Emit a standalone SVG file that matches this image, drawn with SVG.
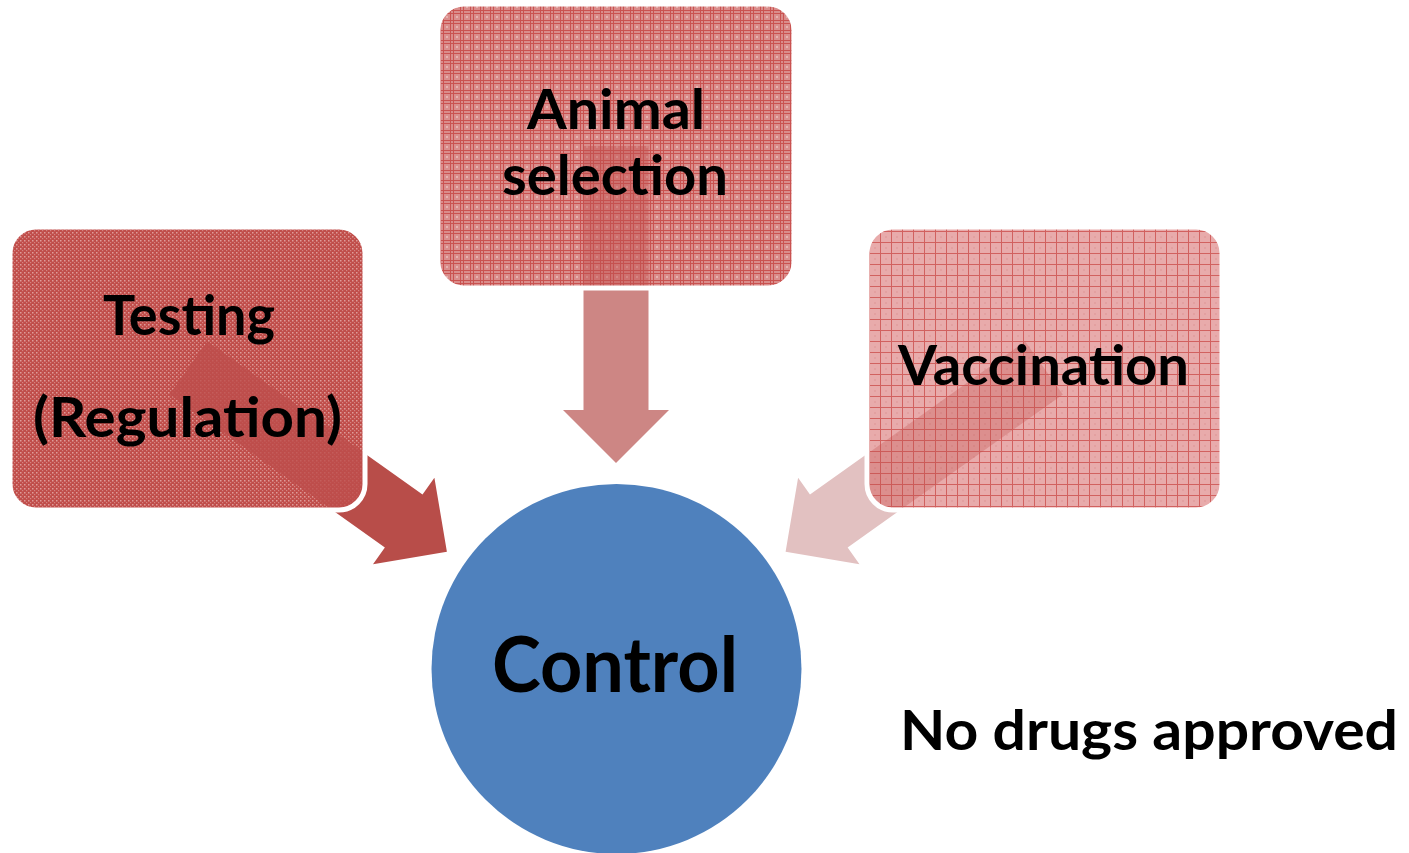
<svg xmlns="http://www.w3.org/2000/svg" width="1409" height="853" viewBox="0 0 1409 853">
  <style>
    .lbl { font-family: Lato, "Noto Sans", "Liberation Sans", sans-serif; font-weight: bold; fill: #000; }
    .edge { fill: none; stroke: #fff; stroke-width: 5; }
  </style>
  <defs>
    <pattern id="dots" width="4" height="4" patternUnits="userSpaceOnUse">
      <rect width="4" height="4" fill="#C04D4A"/>
      <rect x="0" y="0" width="1.5" height="1.5" fill="#DE9C9A"/>
      <rect x="2" y="2" width="1.2" height="1.2" fill="#D58482"/>
    </pattern>
    <pattern id="plaid" width="10" height="10" patternUnits="userSpaceOnUse">
      <rect width="10" height="10" fill="#DA8D8B"/>
      <rect x="0" y="0" width="1" height="10" fill="#C95250"/>
      <rect x="3" y="0" width="1" height="10" fill="#C95250"/>
      <rect x="0" y="0" width="10" height="1" fill="#C95250"/>
      <rect x="0" y="3" width="10" height="1" fill="#C95250"/>
      <rect x="6" y="6" width="2" height="2" fill="#E6B0AE"/>
    </pattern>
    <pattern id="grid" width="11" height="11" patternUnits="userSpaceOnUse">
      <rect width="11" height="11" fill="#E8ABAB"/>
      <rect x="5" y="5" width="2" height="2" fill="#E3A0A0"/>
      <rect x="0" y="0" width="1" height="11" fill="#D1615F"/>
      <rect x="0" y="0" width="11" height="1" fill="#D1615F"/>
    </pattern>
    <polygon id="arr" points="0,-32.5 264,-32.5 264,-53 317,0 264,53 264,32.5 0,32.5"/>
    <clipPath id="cT"><rect x="10" y="227" width="355" height="283" rx="26"/></clipPath>
    <clipPath id="cA"><rect x="438" y="4" width="356" height="284" rx="26"/></clipPath>
    <clipPath id="cV"><rect x="867" y="227" width="355" height="283" rx="26"/></clipPath>
  </defs>

  <g id="connectors">
    <use href="#arr" fill="#B84D49" transform="translate(188.5,368) rotate(35.4)"/>
    <use href="#arr" fill="#CD8684" transform="translate(616,146) rotate(90)"/>
    <use href="#arr" fill="#E2C1C1" transform="translate(1044,368) rotate(144.6)"/>
  </g>

  <g id="node-testing">
    <rect x="10" y="227" width="355" height="283" rx="26" fill="url(#dots)"/>
    <g clip-path="url(#cT)">
      <use href="#arr" fill="#BD4E4B" opacity="0.8" transform="translate(188.5,368) rotate(35.4)"/>
    </g>
    <rect x="10" y="227" width="355" height="283" rx="26" class="edge"/>
    <text class="lbl" x="103" y="335" font-size="56" textLength="172" lengthAdjust="spacingAndGlyphs">Testing</text>
    <text class="lbl" x="33" y="437" font-size="56" textLength="309" lengthAdjust="spacingAndGlyphs">(Regulation)</text>
  </g>

  <g id="node-animal">
    <rect x="438" y="4" width="356" height="284" rx="26" fill="url(#plaid)"/>
    <g clip-path="url(#cA)">
      <use href="#arr" fill="#C0504D" opacity="0.45" transform="translate(616,146) rotate(90)"/>
    </g>
    <rect x="438" y="4" width="356" height="284" rx="26" class="edge"/>
    <text class="lbl" x="527" y="129" font-size="56" textLength="178" lengthAdjust="spacingAndGlyphs">Animal</text>
    <text class="lbl" x="502" y="195" font-size="56" textLength="226" lengthAdjust="spacingAndGlyphs">selection</text>
  </g>

  <g id="node-vaccination">
    <rect x="867" y="227" width="355" height="283" rx="26" fill="url(#grid)"/>
    <g clip-path="url(#cV)">
      <use href="#arr" fill="#C0504D" opacity="0.3" transform="translate(1044,368) rotate(144.6)"/>
    </g>
    <rect x="867" y="227" width="355" height="283" rx="26" class="edge"/>
    <text class="lbl" x="898" y="385" font-size="56" textLength="291" lengthAdjust="spacingAndGlyphs">Vaccination</text>
  </g>

  <g id="node-control">
    <circle cx="616.5" cy="669" r="185" fill="#4F81BD"/>
    <text class="lbl" x="492" y="692" font-size="76" textLength="246" lengthAdjust="spacingAndGlyphs">Control</text>
  </g>

  <g id="note">
    <text class="lbl" x="900" y="750" font-size="55" textLength="498" lengthAdjust="spacingAndGlyphs">No drugs approved</text>
  </g>
</svg>
